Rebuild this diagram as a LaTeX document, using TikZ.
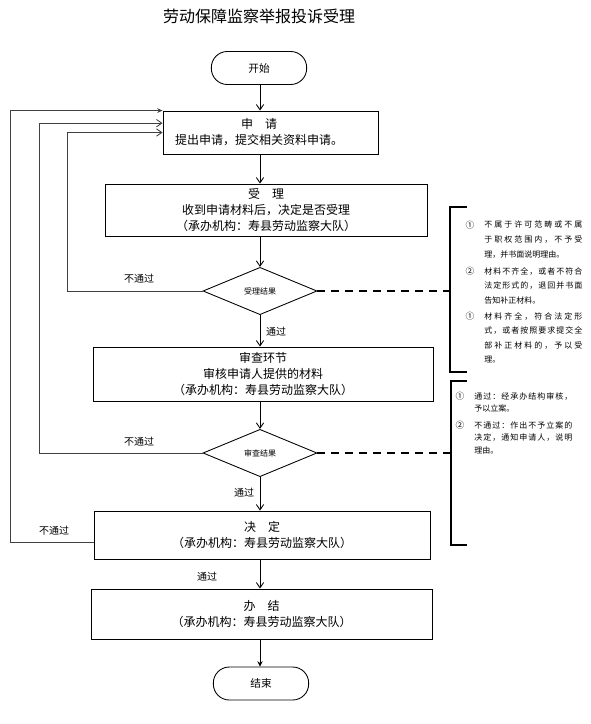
\documentclass[tikz,border=0pt]{standalone}
\usepackage{fontspec}
\setmainfont{Noto Sans CJK SC}
\usetikzlibrary{arrows.meta,shapes.geometric}
\def\sprA#1{\ifx#1\relax\else#1\expandafter\sprB\fi}
\def\sprB#1{\ifx#1\relax\else\hfil#1\expandafter\sprB\fi}
\newcommand\jl[1]{\hbox to 73.5pt{\sprA#1\relax}}
\begin{document}
\begin{tikzpicture}[x=0.75pt,y=-0.75pt,
  box/.style={draw,line width=0.65pt,inner sep=0pt},
  btext/.style={align=center,inner sep=0pt,font=\fontsize{9}{12}\selectfont},
  term/.style={draw,line width=0.65pt,rounded corners=12pt,minimum width=71.5pt,minimum height=24.75pt,inner sep=0pt,font=\fontsize{8}{10}\selectfont},
  dia/.style={draw,diamond,line width=0.65pt,inner sep=0pt,minimum width=85.5pt,minimum height=35.5pt,font=\fontsize{6}{7}\selectfont},
  arr/.style={line width=0.65pt,-{Straight Barb[length=4pt,width=5.5pt]}},
  back/.style={arr,draw=black!75},
  lbl/.style={font=\fontsize{7.5}{9}\selectfont,inner sep=0pt},
  brk/.style={line width=1.6pt},
  dsh/.style={line width=1.6pt,dash pattern=on 6pt off 4.5pt},
  noteA/.style={font=\fontsize{6}{10.9}\selectfont,align=left,anchor=north west,inner sep=0pt},
  noteB/.style={font=\fontsize{6}{9.6}\selectfont,align=left,anchor=north west,inner sep=0pt},
  num/.style={font=\fontsize{6.5}{7}\selectfont,inner sep=0pt}
]
\useasboundingbox (0,0) rectangle (591,724);

\node[font=\fontsize{12}{14}\selectfont,inner sep=0pt] (title) at (259,16) {劳动保障监察举报投诉受理};

\node[term] (start) at (259,68) {开始};

\node[box,minimum width=161.25pt,minimum height=32.25pt] (apply) at (270.5,132.5) {};
\node[btext] (applyt) at (259,132) {申\quad 请\\提出申请，提交相关资料申请。};

\node[box,btext,minimum width=241.5pt,minimum height=39pt] (accept) at (266,210)
  {受\quad 理\\收到申请材料后，决定是否受理\\（承办机构：寿县劳动监察大队）};

\node[dia] (d1) at (260,291) {受理结果};

\node[box,btext,minimum width=255pt,minimum height=40.5pt] (review) at (263,374)
  {审查环节\\审核申请人提供的材料\\（承办机构：寿县劳动监察大队）};

\node[dia] (d2) at (260,453) {审查结果};

\node[box,btext,minimum width=252pt,minimum height=36pt] (decide) at (262,535)
  {决\quad 定\\（承办机构：寿县劳动监察大队）};

\node[box,btext,minimum width=255.75pt,minimum height=37.5pt] (finish) at (261.5,614)
  {办\quad 结\\（承办机构：寿县劳动监察大队）};

\node[term] (end) at (261,683.5) {结束};

% main flow
\draw[arr] (start.south -| d1) -- (apply.north -| d1);
\draw[arr] (apply.south -| d1) -- (accept.north -| d1);
\draw[arr] (accept.south -| d1) -- (d1.north);
\draw[arr] (d1.south) -- (review.north -| d1);
\draw[arr] (review.south -| d2) -- (d2.north);
\draw[arr] (d2.south) -- (decide.north -| d2);
\draw[arr] (decide.south -| d2) -- (finish.north -| d2);
\draw[line width=0.65pt,-{Stealth[length=4pt,width=4pt]}] (finish.south -| d2) -- (end.north -| d2);

% loops back
\draw[back] (d1.west) -- ++(-135,0) |- (apply.west);
\draw[back] (d2.west) -- ++(-163,0) |- ([yshift=7pt]apply.west);
\draw[line width=0.65pt,draw=black!75,-{Stealth[length=4pt,width=3.5pt]}] ([yshift=-5.25pt]decide.west) -- ++(-83,0) |- (apply.north west);

% labels
\node[lbl] (nl1) at (139,279) {不通过};
\node[lbl] (nl2) at (139,442) {不通过};
\node[lbl] (nl3) at (54,531) {不通过};
\node[lbl] (p1) at (276,332) {通过};
\node[lbl] (p2) at (244,493) {通过};
\node[lbl] (p3) at (207,577) {通过};

% bracket 1
\coordinate (b1) at (450,291);
\draw[brk] (467,207) -- (450,207) -- (450,372) -- (467,372);
\draw[brk] (443,291) -- (b1);
\draw[dsh] (d1.east) -- (b1);
\node[num] (n11) at (470,225) {①};
\node[noteA] (t11) at (484,221) {\jl{不属于许可范畴或不属}\\\jl{于职权范围内，不予受}\\理，并书面说明理由。};
\node[num] (n12) at (470,271) {②};
\node[noteA] (t12) at (484,267) {\jl{材料不齐全，或者不符合}\\\jl{法定形式的，退回并书面}\\告知补正材料。};
\node[num] (n13) at (470,316) {①};
\node[noteA] (t13) at (484,312) {\jl{材料齐全，符合法定形}\\\jl{式，或者按照要求提交全}\\\jl{部补正材料的，予以受}\\理。};

% bracket 2
\coordinate (b2) at (451,453);
\draw[brk] (467,381) -- (451,381) -- (451,545) -- (467,545);
\draw[brk] (446,453) -- (b2);
\draw[dsh] (d2.east) -- (b2);
\node[num] (n21) at (460,396) {①};
\node[noteB] (t21) at (474,392) {\jl{通过：经承办结构审核，}\\予以立案。};
\node[num] (n22) at (460,425) {②};
\node[noteB] (t22) at (474,421) {\jl{不通过：作出不予立案的}\\\jl{决定，通知申请人，说明}\\理由。};
\end{tikzpicture}
\end{document}
